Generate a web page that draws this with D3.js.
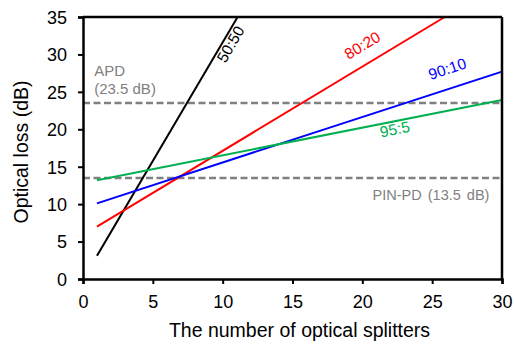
<!DOCTYPE html>
<html>
<head>
<meta charset="utf-8">
<script src="https://cdn.jsdelivr.net/npm/d3@7"></script>
<style>
  body { margin: 0; background: #fff; }
  svg { font-family: Arial, "Liberation Sans", sans-serif; }
</style>
</head>
<body>
<div id="chart"></div>
<script>
const WIDTH = 514;
const HEIGHT = 346;
const MARGIN = { top: 17, right: 12, bottom: 67, left: 83 };

const xTicks = [0, 5, 10, 15, 20, 25, 30];
const yTicks = [0, 5, 10, 15, 20, 25, 30, 35];

// splitter count at the two ends of each line, and the loss
const ratios = ["50:50", "80:20", "90:10", "95:5"];
const colors = ["#000000", "#ff0000", "#0000ff", "#00b050"];
const startN = [1, 1, 1, 1];
const endN = [11.07, 25.9, 30, 30];
const startLoss = [3.1, 7.0, 10.1, 13.2];
const endLoss = [35.0, 35.0, 27.7, 23.9];

const thresholds = [23.5, 13.5];

const innerW = WIDTH - MARGIN.left - MARGIN.right;
const innerH = HEIGHT - MARGIN.top - MARGIN.bottom;

const x = d3.scaleLinear().domain([0, 30]).range([0, innerW]);
const y = d3.scaleLinear().domain([0, 35]).range([innerH, 0]);

const svg = d3.select("#chart").append("svg")
  .attr("width", WIDTH)
  .attr("height", HEIGHT);

const g = svg.append("g")
  .attr("transform", `translate(${MARGIN.left},${MARGIN.top})`);

// dashed detector limits
g.selectAll(".limit")
  .data(thresholds)
  .join("line")
  .attr("class", "limit")
  .attr("x1", 0)
  .attr("x2", innerW)
  .attr("y1", (d) => y(d))
  .attr("y2", (d) => y(d))
  .attr("stroke", "#808080")
  .attr("stroke-width", 2.5)
  .attr("stroke-dasharray", "7,3.5");

const lineData = ratios.map((r, i) => ({
  ratio: r,
  color: colors[i],
  pts: [[startN[i], startLoss[i]], [endN[i], endLoss[i]]]
}));

const line = d3.line().x((d) => x(d[0])).y((d) => y(d[1]));

g.selectAll(".series")
  .data(lineData)
  .join("path")
  .attr("class", "series")
  .attr("d", (d) => line(d.pts))
  .attr("fill", "none")
  .attr("stroke", (d) => d.color)
  .attr("stroke-width", 2);

// axes
const xAxis = g.append("g")
  .attr("transform", `translate(0,${innerH})`)
  .call(d3.axisBottom(x).tickValues(xTicks).tickSize(5).tickPadding(11));
const yAxis = g.append("g")
  .call(d3.axisLeft(y).tickValues(yTicks).tickSize(5).tickPadding(11));

[xAxis, yAxis].forEach((a) => {
  a.select(".domain").attr("stroke", "#000").attr("stroke-width", 2.5);
  a.selectAll(".tick line").attr("stroke", "#000").attr("stroke-width", 2);
  a.selectAll(".tick text")
    .attr("fill", "#000")
    .attr("font-size", 18)
    .attr("font-family", "Arial, 'Liberation Sans', sans-serif");
});
yAxis.selectAll(".tick text").attr("dy", "0.35em");

// top and right frame
g.append("line")
  .attr("x1", 0).attr("x2", innerW).attr("y1", 0).attr("y2", 0)
  .attr("stroke", "#000").attr("stroke-width", 2.5);
g.append("line")
  .attr("x1", innerW).attr("x2", innerW).attr("y1", 0).attr("y2", innerH)
  .attr("stroke", "#000").attr("stroke-width", 2.5);

// series labels
const labelPos = [
  { n: 10.9, v: 31.0, angle: -60 },
  { n: 20.2, v: 30.6, angle: -31 },
  { n: 26.2, v: 27.4, angle: -18 },
  { n: 22.4, v: 19.3, angle: -11 }
];

g.selectAll(".lab")
  .data(lineData)
  .join("text")
  .attr("class", "lab")
  .attr("transform", (d, i) =>
    `translate(${x(labelPos[i].n)},${y(labelPos[i].v)}) rotate(${labelPos[i].angle})`)
  .attr("text-anchor", "middle")
  .attr("fill", (d) => d.color)
  .attr("font-size", 15.5)
  .text((d) => d.ratio);

// detector annotations
g.append("text")
  .attr("x", x(0.8)).attr("y", y(27.1))
  .attr("fill", "#808080").attr("font-size", 15)
  .text("APD");
g.append("text")
  .attr("x", x(0.8)).attr("y", y(24.7))
  .attr("fill", "#808080").attr("font-size", 15)
  .text("(23.5 dB)");
g.append("text")
  .attr("x", x(29.1)).attr("y", y(10.6))
  .attr("text-anchor", "end")
  .attr("fill", "#808080").attr("font-size", 14.5)
  .attr("word-spacing", 2)
  .text("PIN-PD (13.5 dB)");

// axis titles
svg.append("text")
  .attr("x", MARGIN.left + innerW / 2 + 7)
  .attr("y", 337)
  .attr("text-anchor", "middle")
  .attr("font-size", 19.5)
  .text("The number of optical splitters");

svg.append("text")
  .attr("transform", `translate(28,152) rotate(-90)`)
  .attr("text-anchor", "middle")
  .attr("font-size", 19.5)
  .text("Optical loss (dB)");
</script>
</body>
</html>
